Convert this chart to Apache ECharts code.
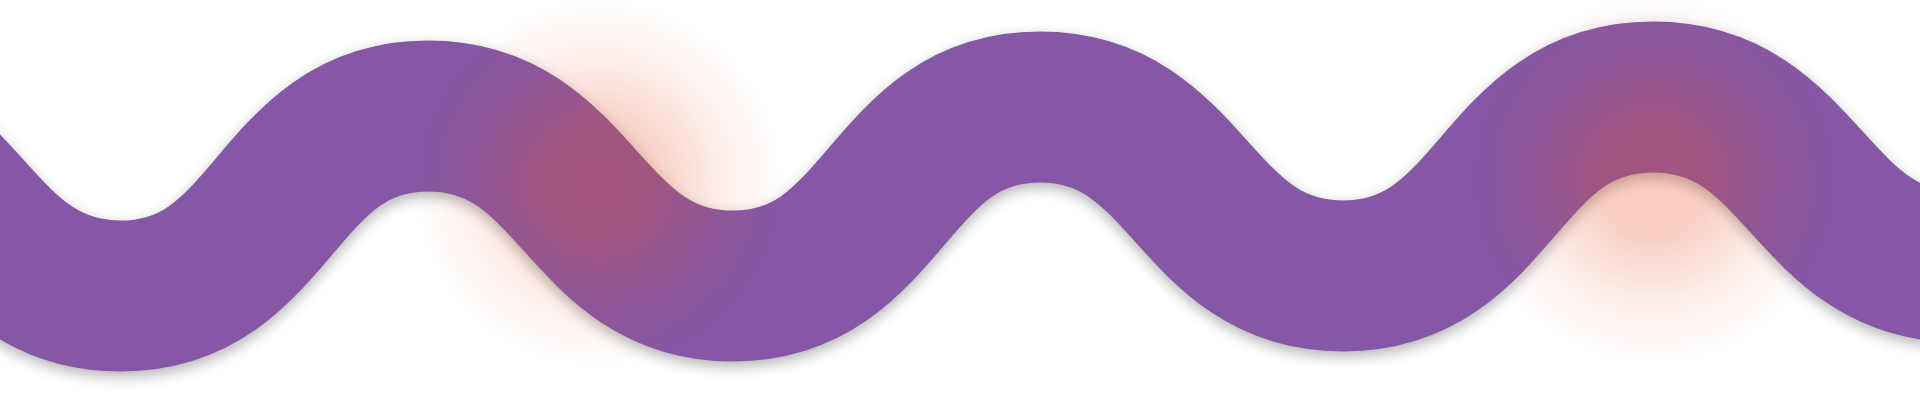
<!DOCTYPE html>
<html>
<head>
<meta charset="utf-8">
<title>wave</title>
<script src="https://cdn.jsdelivr.net/npm/echarts@6/dist/echarts.min.js"></script>
<style>
  html, body { margin: 0; padding: 0; background: #fff; }
  #main { width: 1920px; height: 406px; }
</style>
</head>
<body>
<div id="main"></div>
<script>
// 波浪线的转折点（x 为横向位置，y 为纵向数值，0 在底部）
let waveX = [-491, -185, 121, 428, 733, 1040, 1343, 1653, 1960, 2265, 2570]
let waveY = [100, 280, 110, 290, 120, 299, 130, 309, 139, 318, 149]

// 两处橙色光晕的位置
let glowX = [598, 1653]
let glowY = [223, 226]

let waveData = waveX.map((x, i) => [x, waveY[i]])
let glowData = glowX.map((x, i) => [x, glowY[i]])

var myChart = echarts.init(document.getElementById('main'))

var option = {
  backgroundColor: '#fff',
  animation: false,
  grid: { left: 0, right: 0, top: 0, bottom: 0 },
  xAxis: { type: 'value', min: 0, max: 1920, show: false },
  yAxis: { type: 'value', min: 0, max: 406, show: false },
  series: [
    {
      type: 'line',
      data: waveData,
      smooth: 0.5,
      showSymbol: false,
      z: 2,
      lineStyle: {
        width: 151,
        color: '#8557a5',
        shadowColor: 'rgba(0, 0, 0, 0.3)',
        shadowBlur: 14,
        shadowOffsetY: 5,
      },
    },
    {
      type: 'scatter',
      data: glowData,
      symbol: 'circle',
      symbolSize: 370,
      z: 3,
      silent: true,
      itemStyle: {
        color: {
          type: 'radial',
          x: 0.5,
          y: 0.5,
          r: 0.5,
          colorStops: [
            { offset: 0, color: 'rgba(233, 80, 36, 0.37)' },
            { offset: 0.3, color: 'rgba(233, 80, 36, 0.34)' },
            { offset: 0.65, color: 'rgba(233, 80, 36, 0.13)' },
            { offset: 1, color: 'rgba(233, 80, 36, 0)' },
          ],
        },
      },
    },
  ],
}

myChart.setOption(option)
</script>
</body>
</html>
